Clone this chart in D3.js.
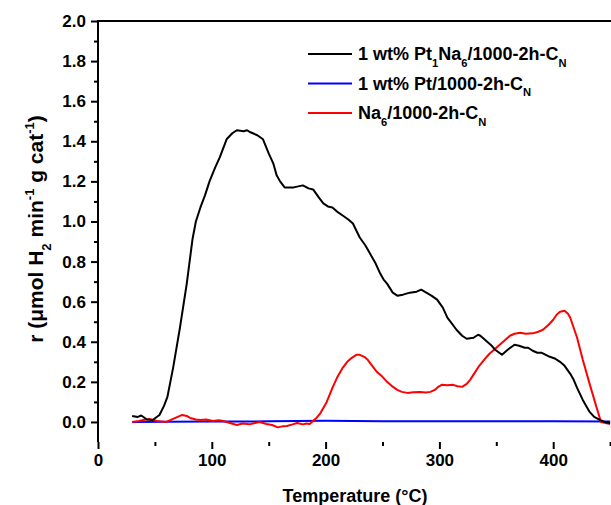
<!doctype html>
<html>

<head>
    <meta charset="utf-8">
    <title>H2 TPR</title>
    <script type="text/javascript" src="https://cdn.jsdelivr.net/npm/d3@7"></script>
    <style type="text/css">
        html,
        body {
            margin: 0;
            padding: 0;
            background: #fff;
        }

        #chart svg {
            display: block;
            font-family: "Liberation Sans", Arial, sans-serif;
            font-weight: bold;
        }
    </style>

    <script type="text/javascript">
        // [temperature in C, rate]
        var ptNaData = [[30, 0.03], [35, 0.025], [38, 0.032], [43, 0.012], [48, 0.01], [54, 0.035], [58, 0.08],
            [61, 0.125], [66, 0.27], [72, 0.47], [78, 0.69], [83, 0.91], [86, 1.0], [90, 1.07], [94, 1.13],
            [98, 1.2], [103, 1.27], [107, 1.32], [113, 1.41], [118, 1.44], [122, 1.455], [128, 1.45],
            [131, 1.455], [134, 1.445], [140, 1.43], [145, 1.41], [150, 1.34], [154, 1.29], [157, 1.23],
            [160, 1.2], [164, 1.17], [172, 1.17], [176, 1.175], [180, 1.18], [185, 1.165], [189, 1.16],
            [194, 1.12], [198, 1.09], [202, 1.075], [206, 1.07], [211, 1.045], [215, 1.03], [220, 1.01],
            [224, 0.99], [230, 0.92], [235, 0.88], [239, 0.84], [244, 0.79], [248, 0.74], [251, 0.71],
            [254, 0.69], [259, 0.645], [263, 0.63], [268, 0.635], [274, 0.645], [280, 0.65], [284, 0.66],
            [287, 0.65], [293, 0.63], [298, 0.61], [303, 0.57], [307, 0.52], [311, 0.49], [315, 0.46],
            [320, 0.43], [324, 0.415], [330, 0.42], [334, 0.435], [336, 0.43], [342, 0.4], [346, 0.38],
            [349, 0.36], [355, 0.335], [360, 0.36], [366, 0.385], [370, 0.38], [375, 0.37], [378, 0.37],
            [382, 0.355], [386, 0.345], [390, 0.345], [397, 0.325], [402, 0.315], [406, 0.3], [410, 0.28],
            [415, 0.24], [418, 0.21], [421, 0.17], [426, 0.11], [432, 0.05], [436, 0.025], [441, 0.01],
            [445, 0.0], [450, -0.005]]

        var ptData = [[30, 0.0], [60, 0.001], [100, 0.002], [150, 0.003], [200, 0.006], [250, 0.004],
            [300, 0.003], [350, 0.003], [400, 0.004], [450, 0.002]]

        var naData = [[30, 0.0], [36, 0.005], [40, 0.01], [45, 0.015], [52, 0.005], [60, 0.0], [64, 0.01],
            [68, 0.02], [74, 0.035], [78, 0.03], [81, 0.02], [86, 0.012], [90, 0.01], [95, 0.012],
            [101, 0.005], [106, 0.008], [110, 0.005], [116, -0.005], [122, -0.015], [127, -0.008],
            [133, -0.012], [138, -0.005], [142, 0.0], [148, -0.01], [153, -0.015], [158, -0.027],
            [162, -0.022], [166, -0.02], [171, -0.012], [175, -0.005], [180, -0.012], [183, -0.008],
            [186, -0.01], [189, 0.005], [192, 0.02], [195, 0.04], [198, 0.07], [201, 0.1], [206, 0.17],
            [210, 0.22], [215, 0.27], [219, 0.3], [223, 0.32], [227, 0.335], [230, 0.335], [234, 0.325],
            [237, 0.31], [241, 0.28], [245, 0.25], [250, 0.225], [254, 0.2], [258, 0.18], [263, 0.16],
            [267, 0.15], [272, 0.145], [277, 0.148], [283, 0.15], [288, 0.147], [292, 0.15], [296, 0.16],
            [299, 0.175], [302, 0.185], [307, 0.183], [312, 0.185], [316, 0.178], [320, 0.175],
            [324, 0.19], [327, 0.21], [331, 0.245], [335, 0.28], [340, 0.315], [344, 0.34], [349, 0.365],
            [353, 0.385], [358, 0.41], [362, 0.43], [366, 0.44], [371, 0.445], [376, 0.44], [382, 0.442],
            [387, 0.45], [391, 0.46], [396, 0.485], [400, 0.51], [403, 0.535], [406, 0.55], [410, 0.555],
            [413, 0.54], [415, 0.52], [418, 0.47], [421, 0.42], [426, 0.31], [432, 0.19], [438, 0.075],
            [442, 0.0], [450, -0.01]]

        var xMajorTicks = [0, 100, 200, 300, 400]
        var xMinorTicks = [50, 150, 250, 350, 450]
        var yMajorTicks = [0.0, 0.2, 0.4, 0.6, 0.8, 1.0, 1.2, 1.4, 1.6, 1.8, 2.0]
        var yMinorTicks = [0.1, 0.3, 0.5, 0.7, 0.9, 1.1, 1.3, 1.5, 1.7, 1.9]

        var seriesNames = [
            [["1 wt% Pt", "n"], ["1", "sub"], ["Na", "n"], ["6", "sub"], ["/1000-2h-C", "n"], ["N", "sub"]],
            [["1 wt% Pt/1000-2h-C", "n"], ["N", "sub"]],
            [["Na", "n"], ["6", "sub"], ["/1000-2h-C", "n"], ["N", "sub"]]
        ]
        var seriesColors = ["#000000", "#0000ff", "#ff0000"]

        // writes text with sub / superscript pieces
        function richText(textSel, parts, size) {
            var shift = 0
            parts.forEach(function (p) {
                var target = p[1] == "sub" ? size * 0.38 : (p[1] == "sup" ? -size * 0.42 : 0)
                textSel.append("tspan")
                    .attr("dy", target - shift)
                    .style("font-size", (p[1] == "n" ? size : size * 0.62) + "px")
                    .text(p[0])
                shift = target
            })
        }
    </script>

    <script type="text/javascript">
        document.addEventListener("DOMContentLoaded", function (e) {
            var width = 611, height = 505

            var svg = d3.select("#chart").append("svg")
                .attr("width", width)
                .attr("height", height)

            var x = d3.scaleLinear().domain([0, 460]).range([98, 98 + 460 * 1.138])
            var y = d3.scaleLinear().domain([-0.1, 2.0]).range([442, 21])

            // frame (top edge; right side falls outside the picture)
            svg.append("path")
                .attr("d", "M" + x(0) + "," + y(-0.1) + "V" + y(2.0) + "H" + x(460))
                .attr("fill", "none")
                .attr("stroke", "#000")
                .attr("stroke-width", 2)

            svg.append("g")
                .attr("transform", "translate(0," + y(-0.1) + ")")
                .call(d3.axisBottom(x).tickValues(xMajorTicks).tickSize(7).tickPadding(5)
                    .tickFormat(d3.format("d")))
            svg.append("g")
                .attr("transform", "translate(0," + y(-0.1) + ")")
                .call(d3.axisBottom(x).tickValues(xMinorTicks).tickSize(4).tickFormat(""))

            svg.append("g")
                .attr("transform", "translate(" + x(0) + ",0)")
                .call(d3.axisLeft(y).tickValues(yMajorTicks).tickSize(7).tickPadding(5)
                    .tickFormat(d3.format(".1f")))
            svg.append("g")
                .attr("transform", "translate(" + x(0) + ",0)")
                .call(d3.axisLeft(y).tickValues(yMinorTicks).tickSize(4).tickFormat(""))

            svg.selectAll(".domain").remove()
            svg.selectAll(".tick line").attr("stroke-width", 2)
            svg.selectAll(".tick text")
                .style("font-size", "17px")
                .style("font-weight", "bold")
                .style("font-family", "'Liberation Sans', Arial, sans-serif")
                .attr("fill", "#000")

            // data lines
            var line = d3.line()
                .x(function (d) { return x(d[0]) })
                .y(function (d) { return y(d[1]) })

            var allSeries = [ptData, naData, ptNaData]
            var allColors = [seriesColors[1], seriesColors[2], seriesColors[0]]
            allSeries.forEach(function (data, i) {
                svg.append("path")
                    .datum(data)
                    .attr("d", line)
                    .attr("fill", "none")
                    .attr("stroke", allColors[i])
                    .attr("stroke-width", 2)
                    .attr("stroke-linejoin", "round")
            })

            // legend
            var legend = svg.append("g").attr("transform", "translate(308,54)")
            seriesNames.forEach(function (name, i) {
                var row = legend.append("g").attr("transform", "translate(0," + (i * 29.5) + ")")
                row.append("line")
                    .attr("x1", 0).attr("x2", 44)
                    .attr("stroke", seriesColors[i])
                    .attr("stroke-width", 2)
                var t = row.append("text")
                    .attr("x", 50).attr("y", 6)
                    .style("font-size", "18px")
                richText(t, name, 18)
            })

            // axis titles
            svg.append("text")
                .attr("x", 355).attr("y", 502)
                .attr("text-anchor", "middle")
                .style("font-size", "18px")
                .text("Temperature (\u00B0C)")

            var yTitle = svg.append("text")
                .attr("transform", "translate(43,229) rotate(-90)")
                .attr("text-anchor", "middle")
                .style("font-size", "21px")
            richText(yTitle, [["r (\u03BCmol H", "n"], ["2", "sub"], [" min", "n"], ["-1", "sup"],
                [" g cat", "n"], ["-1", "sup"], [")", "n"]], 21)
        })
    </script>

</head>

<body>
    <div id="chart"></div>
</body>

</html>
